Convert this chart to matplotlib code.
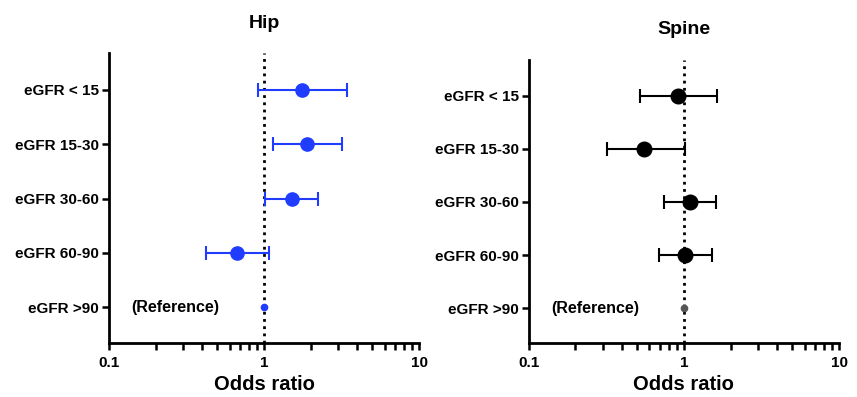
import numpy as np
import matplotlib
matplotlib.use("Agg")
import matplotlib.pyplot as plt
from matplotlib.ticker import LogLocator, NullFormatter, FixedLocator, FixedFormatter

plt.rcParams["font.family"] = ["Liberation Sans", "DejaVu Sans"]
plt.rcParams["font.weight"] = "bold"

# Category labels, top to bottom
groups = ["eGFR < 15", "eGFR 15-30", "eGFR 30-60", "eGFR 60-90", "eGFR >90"]

# Hip odds ratios with 95% CI
hip_or = [1.77, 1.90, 1.52, 0.67, 1.0]
hip_lo = [0.91, 1.14, 1.01, 0.42, 1.0]
hip_hi = [3.45, 3.19, 2.24, 1.07, 1.0]

# Spine odds ratios with 95% CI
spine_or = [0.91, 0.55, 1.10, 1.02, 1.0]
spine_lo = [0.52, 0.32, 0.74, 0.69, 1.0]
spine_hi = [1.64, 1.01, 1.60, 1.51, 1.0]

fig = plt.figure(figsize=(8.57, 3.97), dpi=100)
ax_hip = fig.add_axes([0.127, 0.136, 0.362, 0.730])
ax_spine = fig.add_axes([0.617, 0.136, 0.362, 0.713])


def forest(ax, title, ors, lo, hi, color, ref_color, msize, title_pad):
    y = np.arange(len(groups))[::-1] + 1
    ors = np.array(ors)
    err = np.vstack([ors - np.array(lo), np.array(hi) - ors])
    # dotted reference line at OR = 1
    ax.axvline(1, color="black", linestyle=(0, (1, 1.6)), linewidth=2, zorder=1)
    ax.errorbar(ors[:-1], y[:-1], xerr=err[:, :-1], fmt="o", color=color,
                markersize=msize, elinewidth=1.5, capsize=5, capthick=1.5, zorder=3)
    ax.plot(ors[-1:], y[-1:], "o", color=ref_color, markersize=4.5, zorder=3)
    ax.text(0.139, y[-1], "(Reference)", ha="left", va="center",
            fontsize=11.5, fontweight="bold")

    ax.set_xscale("log")
    ax.set_xlim(0.1, 10)
    ax.set_ylim(0.345, 5.67)
    ax.set_yticks(y)
    ax.set_yticklabels(groups, fontsize=11, fontweight="bold")
    ax.xaxis.set_major_locator(FixedLocator([0.1, 1, 10]))
    ax.xaxis.set_major_formatter(FixedFormatter(["0.1", "1", "10"]))
    ax.xaxis.set_minor_locator(LogLocator(base=10, subs=np.arange(2, 10)))
    ax.xaxis.set_minor_formatter(NullFormatter())
    for lab in ax.get_xticklabels():
        lab.set_fontsize(11)
        lab.set_fontweight("bold")
    ax.tick_params(axis="both", which="both", direction="out", width=1.8, color="black")
    ax.tick_params(axis="x", which="major", length=5, pad=4)
    ax.tick_params(axis="x", which="minor", length=5)
    ax.tick_params(axis="y", length=5, pad=2)
    for side in ["top", "right"]:
        ax.spines[side].set_visible(False)
    for side in ["left", "bottom"]:
        ax.spines[side].set_linewidth(2)
    ax.set_xlabel("Odds ratio", fontsize=14.5, fontweight="bold", labelpad=4)
    ax.set_title(title, fontsize=14, fontweight="bold", pad=title_pad)


forest(ax_hip, "Hip", hip_or, hip_lo, hip_hi, "#1f3cff", "#1f3cff", 9.5, 18.5)
forest(ax_spine, "Spine", spine_or, spine_lo, spine_hi, "black", "#555555", 10.5, 19)

fig.savefig("out.png", dpi=100)
